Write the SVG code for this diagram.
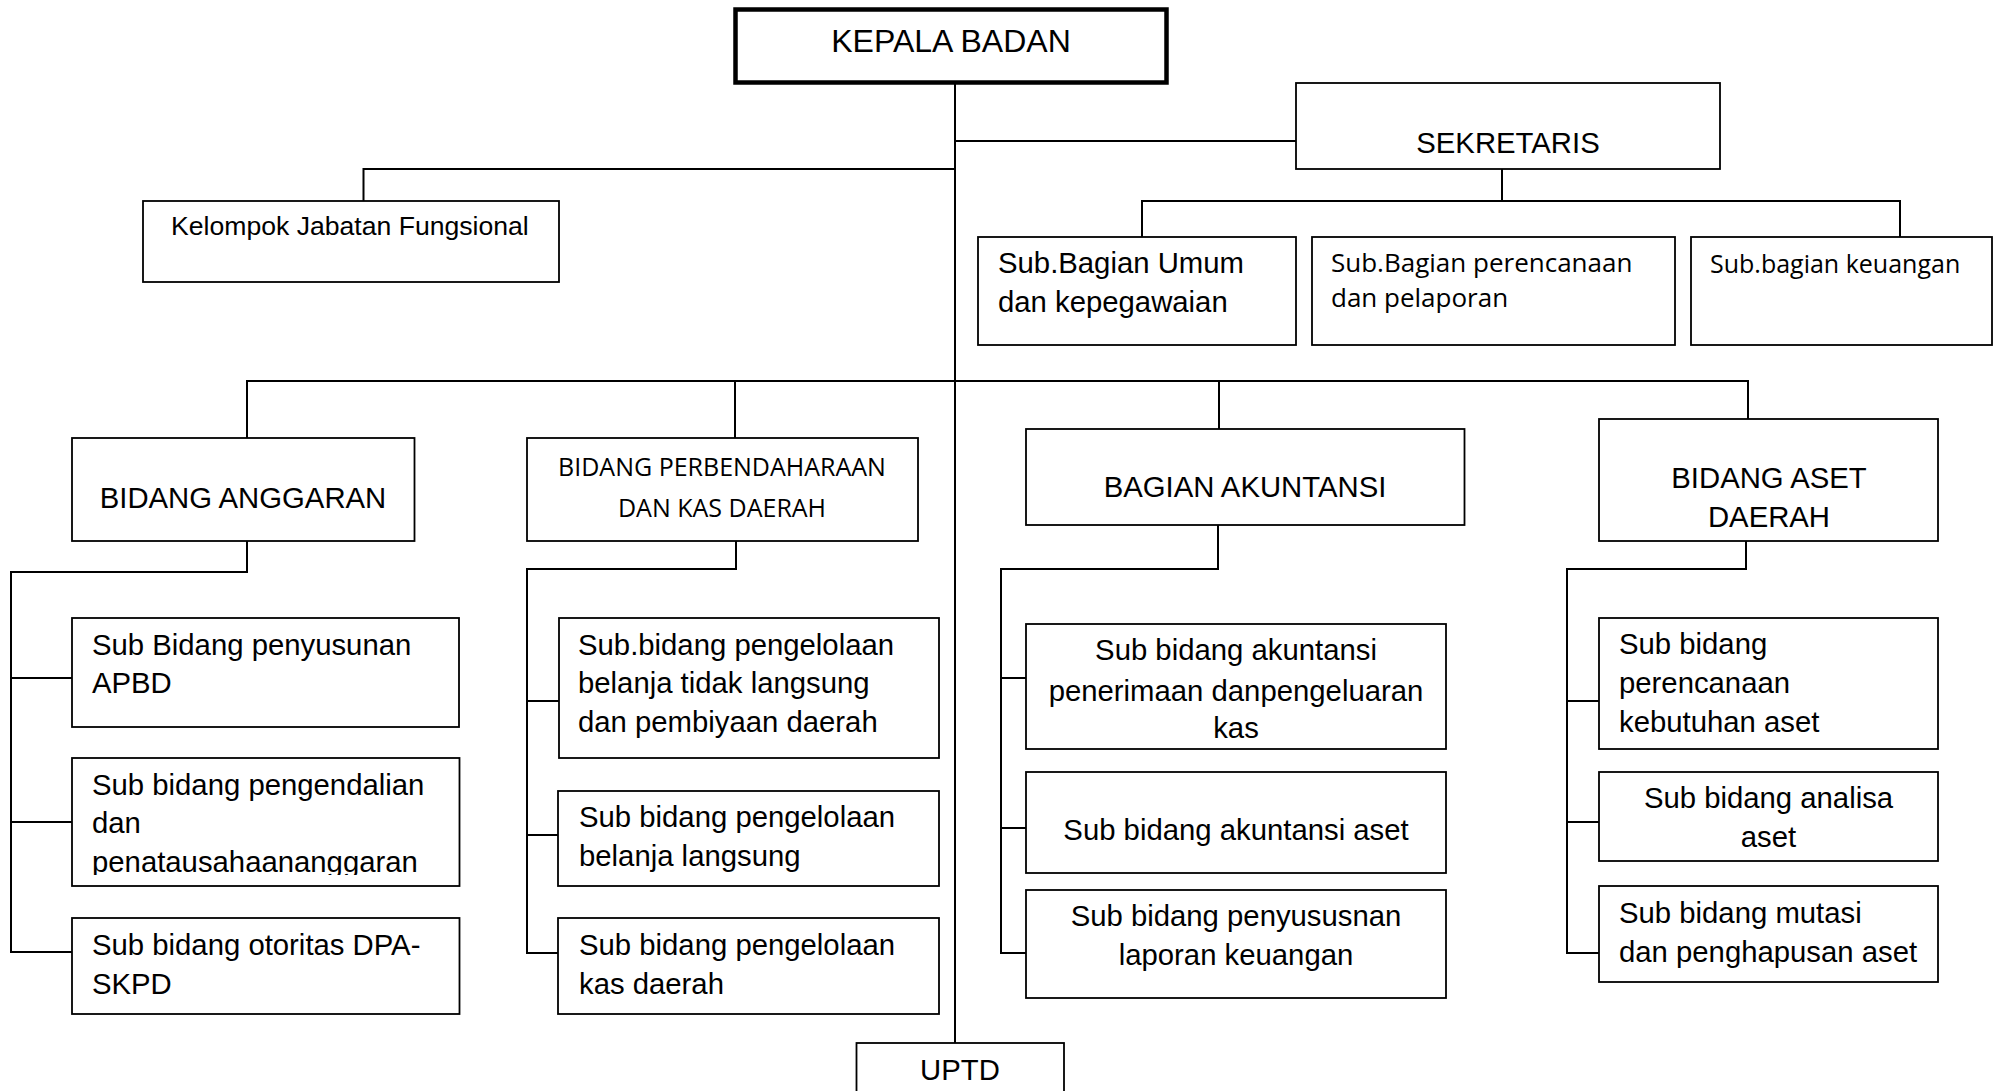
<svg xmlns="http://www.w3.org/2000/svg" width="1994" height="1091" viewBox="0 0 1994 1091">
<style>
  .box { fill: #fff; stroke: #000; stroke-width: 1.8; }
  .thick { fill: #fff; stroke: #000; stroke-width: 4.5; }
  .ln { fill: none; stroke: #000; stroke-width: 2; }
  .t { font-family: "Liberation Sans", Arial, sans-serif; font-size: 29.3px; fill: #000; }
  .c { text-anchor: middle; }
  .o { font-family: "Open Sans", "Liberation Sans", sans-serif; fill: #000; }
</style>
<defs>
  <clipPath id="clipA2"><rect x="72" y="758" width="388" height="117"/></clipPath>
  <clipPath id="clipK1"><rect x="1026" y="624" width="420" height="116"/></clipPath>
</defs>
<rect width="1994" height="1091" fill="#fff"/>
<g id="connectors">
  <path class="ln" d="M955,84 V1043"/>
  <path class="ln" d="M955,141 H1296"/>
  <path class="ln" d="M955,169 H363.5 V201"/>
  <path class="ln" d="M1502,169 V201 M1142,237 V201 H1900 V237"/>
  <path class="ln" d="M247,438 V381 H1748 V419 M735,381 V438 M1219,381 V429"/>
  <path class="ln" d="M247,541 V572 H11 V952 H72 M11,678 H72 M11,822 H72"/>
  <path class="ln" d="M736,541 V569 H527 V953 H558 M527,701 H559 M527,835 H558"/>
  <path class="ln" d="M1218,525 V569 H1001 V953 H1026 M1001,678 H1026 M1001,828 H1026"/>
  <path class="ln" d="M1746,541 V569 H1567 V953 H1599 M1567,701 H1599 M1567,822 H1599"/>
</g>
<g id="kepala">
  <rect class="thick" x="735.5" y="9.5" width="431" height="73"/>
  <text class="t c" x="951" y="52" style="font-size:32px">KEPALA BADAN</text>
</g>
<g id="sekretaris">
  <rect class="box" x="1296" y="83" width="424" height="86"/>
  <text class="t c" x="1508" y="153">SEKRETARIS</text>
</g>
<g id="kelompok">
  <rect class="box" x="143" y="201" width="416" height="81"/>
  <text class="t" x="171" y="235" style="font-size:26.6px">Kelompok Jabatan Fungsional</text>
</g>
<g id="sub-umum">
  <rect class="box" x="978" y="237" width="318" height="108"/>
  <text class="t" x="998" y="273">Sub.Bagian Umum</text>
  <text class="t" x="998" y="312">dan kepegawaian</text>
</g>
<g id="sub-perencanaan">
  <rect class="box" x="1312" y="237" width="363" height="108"/>
  <text class="o" x="1331" y="272" style="font-size:26px">Sub.Bagian perencanaan</text>
  <text class="o" x="1331" y="307" style="font-size:26px">dan pelaporan</text>
</g>
<g id="sub-keuangan">
  <rect class="box" x="1691" y="237" width="301" height="108"/>
  <text class="o" x="1710" y="273" style="font-size:25px">Sub.bagian keuangan</text>
</g>
<g id="bidang-anggaran">
  <rect class="box" x="72" y="438" width="342.5" height="103"/>
  <text class="t c" x="243" y="508">BIDANG ANGGARAN</text>
</g>
<g id="bidang-perbendaharaan">
  <rect class="box" x="527" y="438" width="391" height="103"/>
  <text class="o c" x="722" y="476" style="font-size:25px">BIDANG PERBENDAHARAAN</text>
  <text class="o c" x="722" y="517" style="font-size:25px">DAN KAS DAERAH</text>
</g>
<g id="bagian-akuntansi">
  <rect class="box" x="1026" y="429" width="438.5" height="96"/>
  <text class="t c" x="1245" y="497">BAGIAN AKUNTANSI</text>
</g>
<g id="bidang-aset">
  <rect class="box" x="1599" y="419" width="339" height="122"/>
  <text class="t c" x="1769" y="488">BIDANG ASET</text>
  <text class="t c" x="1769" y="527">DAERAH</text>
</g>
<g id="sub-penyusunan-apbd">
  <rect class="box" x="72" y="618" width="387" height="109"/>
  <text class="t" x="92" y="655">Sub Bidang penyusunan</text>
  <text class="t" x="92" y="693">APBD</text>
</g>
<g id="sub-pengendalian">
  <rect class="box" x="72" y="758" width="387.5" height="128"/>
  <g clip-path="url(#clipA2)">
    <text class="t" x="92" y="795">Sub bidang pengendalian</text>
    <text class="t" x="92" y="833">dan</text>
    <text class="t" x="92" y="872">penatausahaananggaran</text>
  </g>
</g>
<g id="sub-otoritas">
  <rect class="box" x="72" y="918" width="387.5" height="96"/>
  <text class="t" x="92" y="955">Sub bidang otoritas DPA-</text>
  <text class="t" x="92" y="994">SKPD</text>
</g>
<g id="sub-btl">
  <rect class="box" x="559" y="618" width="380" height="140"/>
  <text class="t" x="578" y="655">Sub.bidang pengelolaan</text>
  <text class="t" x="578" y="693">belanja tidak langsung</text>
  <text class="t" x="578" y="732">dan pembiyaan daerah</text>
</g>
<g id="sub-bl">
  <rect class="box" x="558" y="791" width="381" height="95"/>
  <text class="t" x="579" y="827">Sub bidang pengelolaan</text>
  <text class="t" x="579" y="866">belanja langsung</text>
</g>
<g id="sub-kas">
  <rect class="box" x="558" y="918" width="381" height="96"/>
  <text class="t" x="579" y="955">Sub bidang pengelolaan</text>
  <text class="t" x="579" y="994">kas daerah</text>
</g>
<g id="sub-akuntansi-kas">
  <rect class="box" x="1026" y="624" width="420" height="125"/>
  <g clip-path="url(#clipK1)">
    <text class="t c" x="1236" y="660">Sub bidang akuntansi</text>
    <text class="t c" x="1236" y="701">penerimaan danpengeluaran</text>
    <text class="t c" x="1236" y="738">kas</text>
  </g>
</g>
<g id="sub-akuntansi-aset">
  <rect class="box" x="1026" y="772" width="420" height="101"/>
  <text class="t c" x="1236" y="840">Sub bidang akuntansi aset</text>
</g>
<g id="sub-laporan">
  <rect class="box" x="1026" y="890" width="420" height="108"/>
  <text class="t c" x="1236" y="926">Sub bidang penyususnan</text>
  <text class="t c" x="1236" y="965">laporan keuangan</text>
</g>
<g id="sub-perencanaan-aset">
  <rect class="box" x="1599" y="618" width="339" height="131"/>
  <text class="t" x="1619" y="654">Sub bidang</text>
  <text class="t" x="1619" y="693">perencanaan</text>
  <text class="t" x="1619" y="732">kebutuhan aset</text>
</g>
<g id="sub-analisa">
  <rect class="box" x="1599" y="772" width="339" height="89"/>
  <text class="t c" x="1768.5" y="808">Sub bidang analisa</text>
  <text class="t c" x="1768.5" y="847">aset</text>
</g>
<g id="sub-mutasi">
  <rect class="box" x="1599" y="886" width="339" height="96"/>
  <text class="t" x="1619" y="923">Sub bidang mutasi</text>
  <text class="t" x="1619" y="962">dan penghapusan aset</text>
</g>
<g id="uptd">
  <rect class="box" x="856.5" y="1043" width="207.5" height="60"/>
  <text class="t c" x="960" y="1080">UPTD</text>
</g>
</svg>
